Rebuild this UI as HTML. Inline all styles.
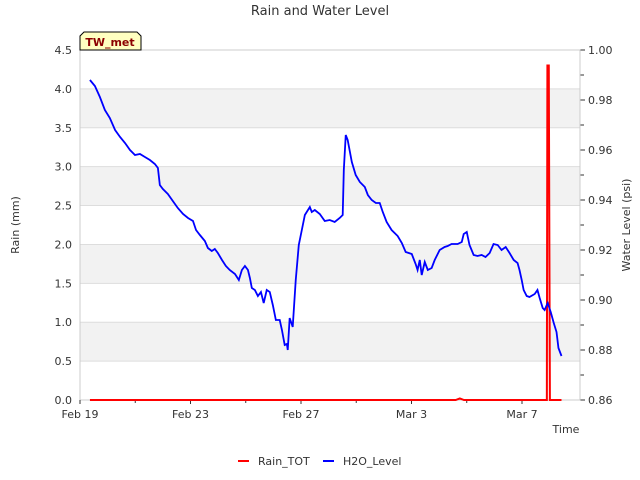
<!DOCTYPE html>
<html><head><meta charset="utf-8"><style>
body{margin:0;background:#fff;}
svg{display:block;font-family:"DejaVu Sans","Liberation Sans",sans-serif;}
</style></head><body>
<svg id="chart" width="640" height="480" viewBox="0 0 640 480">
<text x="320" y="15" text-anchor="middle" font-size="13" fill="#333">Rain and Water Level</text>
<g id="bands"></g><g id="axes"></g><g id="series"></g>
<g>
<path d="M84,32 L137,32 L141,36 L141,50 L80,50 L80,36 Z" fill="#ffffc0" stroke="#000" stroke-width="1"/>
<text x="110" y="46" text-anchor="middle" font-size="11" font-weight="bold" fill="#8b0000">TW_met</text>
</g>
<text transform="translate(19,225) rotate(-90)" text-anchor="middle" font-size="11" fill="#333">Rain (mm)</text>
<text transform="translate(630,225) rotate(-90)" text-anchor="middle" font-size="11" fill="#333">Water Level (psi)</text>
<text x="566" y="433" text-anchor="middle" font-size="11" fill="#333">Time</text>
<g>
<g><line x1="238" y1="461" x2="249" y2="461" stroke="#f00" stroke-width="2"/><text x="258" y="465" font-size="11" fill="#333">Rain_TOT</text></g>
<g><line x1="323" y1="461" x2="334" y2="461" stroke="#00f" stroke-width="2"/><text x="343" y="465" font-size="11" fill="#333">H2O_Level</text></g>
</g>
</svg>
<script>
const leftTicks=[0,0.5,1,1.5,2,2.5,3,3.5,4,4.5];
const rightTicks=[0.86,0.88,0.90,0.92,0.94,0.96,0.98,1.00];
const xTickDays=[0,4,8,12,16];
const xTickLabels=["Feb 19","Feb 23","Feb 27","Mar 3","Mar 7"];
const h2oDays=[0.36,0.54,0.72,0.90,1.08,1.27,1.45,1.63,1.81,1.99,2.17,2.35,2.53,2.71,2.82,2.89,3.00,3.18,3.36,3.54,3.73,3.91,4.09,4.20,4.34,4.52,4.63,4.77,4.88,4.99,5.14,5.28,5.42,5.61,5.75,5.86,5.97,6.08,6.15,6.22,6.33,6.44,6.55,6.65,6.76,6.87,6.98,7.09,7.23,7.31,7.41,7.49,7.52,7.59,7.70,7.81,7.92,8.03,8.14,8.32,8.39,8.50,8.68,8.86,9.04,9.22,9.40,9.51,9.55,9.62,9.69,9.84,9.98,10.13,10.31,10.42,10.56,10.71,10.85,10.96,11.10,11.28,11.50,11.65,11.79,12.01,12.15,12.22,12.30,12.37,12.48,12.59,12.73,12.84,13.02,13.20,13.31,13.45,13.67,13.82,13.89,14.00,14.10,14.25,14.39,14.54,14.68,14.83,14.97,15.12,15.26,15.41,15.55,15.70,15.84,15.91,15.99,16.06,16.17,16.27,16.46,16.56,16.64,16.75,16.82,16.93,17.04,17.15,17.25,17.32,17.43];
const h2oLevels=[0.988,0.9856,0.9812,0.976,0.9728,0.968,0.9652,0.9628,0.960,0.958,0.9584,0.9572,0.956,0.9544,0.9528,0.946,0.9444,0.9424,0.9396,0.9368,0.9344,0.9328,0.9316,0.928,0.926,0.9236,0.9208,0.9196,0.9204,0.9188,0.916,0.9136,0.912,0.9104,0.908,0.912,0.9136,0.912,0.9088,0.9048,0.904,0.9016,0.9032,0.8988,0.904,0.9032,0.898,0.892,0.892,0.888,0.882,0.8824,0.880,0.8928,0.8892,0.908,0.922,0.928,0.934,0.9372,0.9352,0.936,0.9344,0.9316,0.932,0.9312,0.9328,0.934,0.952,0.966,0.964,0.9552,0.950,0.9472,0.9452,0.942,0.940,0.9388,0.9388,0.9352,0.9312,0.928,0.9256,0.9228,0.9192,0.9184,0.9144,0.912,0.916,0.910,0.9152,0.912,0.9128,0.916,0.920,0.9212,0.9216,0.9224,0.9224,0.9232,0.9264,0.9272,0.922,0.918,0.9176,0.918,0.9172,0.9188,0.9224,0.922,0.920,0.9212,0.9188,0.916,0.9148,0.912,0.908,0.904,0.9016,0.9012,0.9024,0.904,0.9008,0.8968,0.896,0.8988,0.8952,0.8908,0.8872,0.8808,0.8776];
const rainDays=[0.36,13.60,13.75,13.90,16.90,16.92,16.97,17.01,17.43];
const rainVals=[0,0,0.02,0,0,4.3,4.3,0,0];

const NS="http://www.w3.org/2000/svg";
const L=80,R=580,T=50,B=400;
const xS=d=>L+d*(R-L)/18.1;
const yL=v=>B-v*(B-T)/4.5;
const yR=v=>B-(v-0.86)*(B-T)/0.14;
function mk(tag,attrs,parent,txt){const e=document.createElementNS(NS,tag);for(const k in attrs)e.setAttribute(k,attrs[k]);if(txt!==undefined)e.textContent=txt;parent.appendChild(e);return e;}
const bands=document.getElementById('bands'),axes=document.getElementById('axes'),series=document.getElementById('series');
for(let i=0;i<leftTicks.length-1;i++){
  if(i%2===1){const r=mk('rect',{x:L,y:yL(leftTicks[i+1]),width:R-L,height:yL(leftTicks[i])-yL(leftTicks[i+1]),fill:'#f2f2f2'},bands);
  
  }
}
leftTicks.forEach(v=>{
  const g=mk('line',{x1:L,x2:R,y1:yL(v),y2:yL(v),stroke:'#ddd','stroke-width':1},bands);
  
  
  const t=mk('text',{x:L-8,y:yL(v)+4,'text-anchor':'end','font-size':11,fill:'#333'},axes,v.toFixed(1));
  
  
});
rightTicks.forEach(v=>{
  mk('line',{x1:R,x2:R+5,y1:yR(v),y2:yR(v),stroke:'#333'},axes);
  const t=mk('text',{x:R+8,y:yR(v)+4,'font-size':11,fill:'#333'},axes,v.toFixed(2));
  
  
  if(v<0.995){mk('line',{x1:R,x2:R+4,y1:yR(v+0.01),y2:yR(v+0.01),stroke:'#333'},axes);}
});
mk('rect',{x:L,y:T,width:R-L,height:B-T,fill:'none',stroke:'#ccc'},axes);
xTickDays.forEach((d,i)=>{
  mk('line',{x1:xS(d),x2:xS(d),y1:B,y2:B+4,stroke:'#333'},axes);
  if(i<xTickDays.length-1) mk('line',{x1:xS(d+2),x2:xS(d+2),y1:B,y2:B+3,stroke:'#333'},axes);
  const t=mk('text',{x:xS(d),y:B+18,'text-anchor':'middle','font-size':11,fill:'#333'},axes,xTickLabels[i]);
  
  
});
const rp=mk('polyline',{points:rainDays.map((d,i)=>xS(d)+','+yL(rainVals[i])).join(' '),fill:'none',stroke:'#f00','stroke-width':2},series);


const hp=mk('polyline',{points:h2oDays.map((d,i)=>xS(d)+','+yR(h2oLevels[i])).join(' '),fill:'none',stroke:'#00f','stroke-width':1.8},series);


</script>
</body></html>
